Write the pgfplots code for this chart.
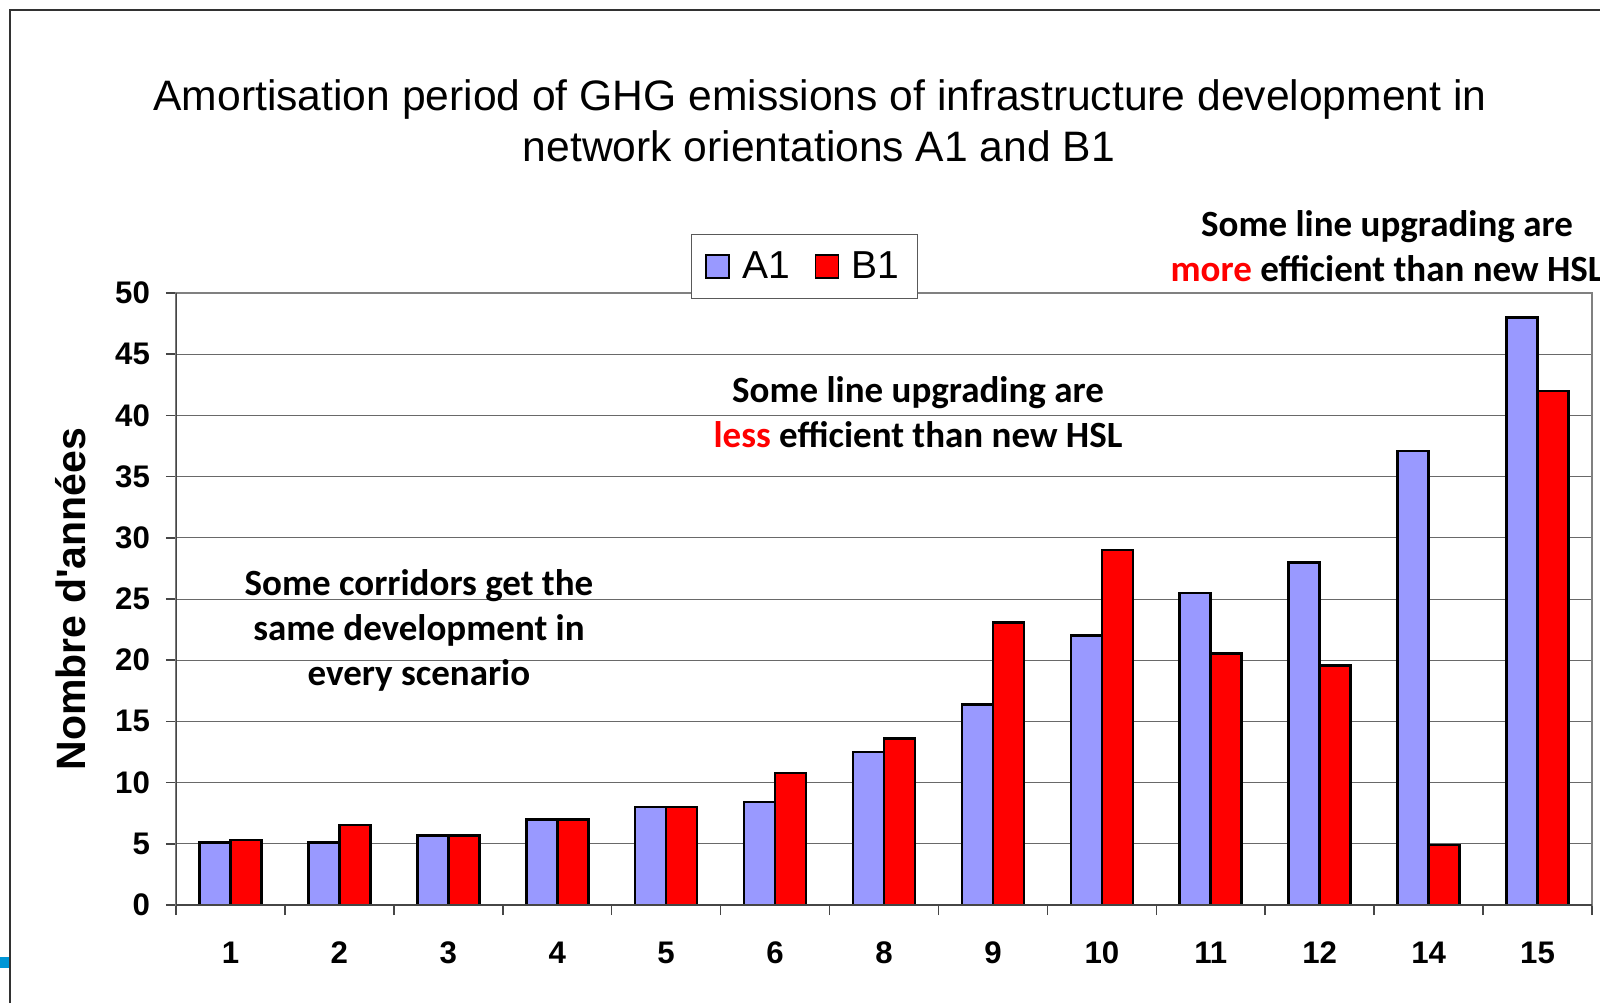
\documentclass[border=0pt]{standalone}
\usepackage{fontspec}
\setmainfont{Liberation Sans}
\newfontfamily\calibri{Carlito}
\usepackage{pgfplots}
\pgfplotsset{compat=1.18}
\definecolor{barA}{RGB}{153,153,255}
\definecolor{barB}{RGB}{255,0,0}
\definecolor{gridc}{RGB}{105,105,105}
\definecolor{framec}{RGB}{128,128,128}
\definecolor{axisc}{RGB}{70,70,70}
\definecolor{slidec}{RGB}{50,50,50}
\definecolor{slideblue}{RGB}{0,150,214}
\begin{document}
\begin{tikzpicture}
\begin{axis}[
  scale only axis, width=708pt, height=306pt,
  ybar=0pt, bar width=15.5pt,
  xmin=0.5, xmax=13.5, ymin=0, ymax=50,
  xtick={0.5,1.5,...,13.5}, x tick label as interval,
  xticklabels={1,2,3,4,5,6,8,9,10,11,12,14,15},
  ytick={0,5,...,50},
  xtick pos=bottom, ytick pos=left,
  ymajorgrids, grid style={draw=gridc, line width=0.5pt},
  tick align=outside, major tick length=5pt,
  tick style={draw=axisc, line width=0.8pt},
  axis line style={draw=framec, line width=1pt},
  /pgf/number format/assume math mode=true,
  ticklabel style={font=\bfseries\fontsize{15.6}{18}\selectfont},
  yticklabel style={xshift=-4.5pt},
  xticklabel style={yshift=-10pt},
  ylabel={Nombre d\textquotesingle années},
  ylabel style={at={(axis description cs:-0.0742,0.5)}, anchor=center, font=\bfseries\fontsize{20.5}{24}\selectfont},
  legend columns=2,
  legend style={at={(rel axis cs:0.4439,1.043)}, anchor=center, draw=gray!70!black, line width=0.6pt, fill=white,
    font=\fontsize{19.5}{22}\selectfont, inner xsep=7pt, inner ysep=6.5pt,
    /tikz/every odd column/.append style={column sep=4.5pt},
    /tikz/every even column/.append style={column sep=10pt}},
  every axis plot post/.append style={legend image code/.code={\draw[#1, line width=0.7pt, draw=black] (0pt,-5.75pt) rectangle (11.5pt,5.75pt);}},
]
\addplot[fill=barA, draw=black, line width=1.3pt] coordinates {
(1,5.1) (2,5.1) (3,5.7) (4,7.0) (5,8.0) (6,8.4) (7,12.5) (8,16.4) (9,22.0) (10,25.5) (11,28.0) (12,37.1) (13,48.0)};
\addplot[fill=barB, draw=black, line width=1.3pt] coordinates {
(1,5.3) (2,6.55) (3,5.7) (4,7.0) (5,8.0) (6,10.8) (7,13.6) (8,23.1) (9,29.0) (10,20.55) (11,19.55) (12,4.9) (13,42.0)};
\legend{A1,B1}
\draw[draw=axisc, line width=1pt] (rel axis cs:0,1) -- (rel axis cs:0,0) -- (rel axis cs:1,0);
\end{axis}
\begin{scope}[x=0.5pt,y=-0.5pt,shift={(-88pt,452.5pt)}]
 \draw[line width=0.9pt, draw=slidec] (10,1003) -- (10,10) -- (1600,10);
 \fill[slideblue] (0,957) rectangle (9,968);
 \node[font=\fontsize{21.3}{25}\selectfont, anchor=base, inner sep=0pt] at (820,111) {Amortisation period of GHG emissions of infrastructure development in};
 \node[font=\fontsize{21.3}{25}\selectfont, anchor=base, inner sep=0pt] at (819,162) {network orientations A1 and B1};
 \node[font=\calibri\bfseries\fontsize{18.5}{22.5}\selectfont, align=center, inner sep=0pt] at (918,412.5) {Some line upgrading are\\\textcolor{barB}{less} efficient than new HSL};
 \node[font=\calibri\bfseries\fontsize{18.5}{22.5}\selectfont, align=center, inner sep=0pt] at (1387,246) {Some line upgrading are\\\textcolor{barB}{more} efficient than new HSL};
 \node[font=\calibri\bfseries\fontsize{18.5}{22.5}\selectfont, align=center, inner sep=0pt] at (419,630) {Some corridors get the\\same development in\\every scenario};
 \pgfresetboundingbox
 \path[use as bounding box] (0,0) rectangle (1600,1003);
\end{scope}
\end{tikzpicture}
\end{document}
